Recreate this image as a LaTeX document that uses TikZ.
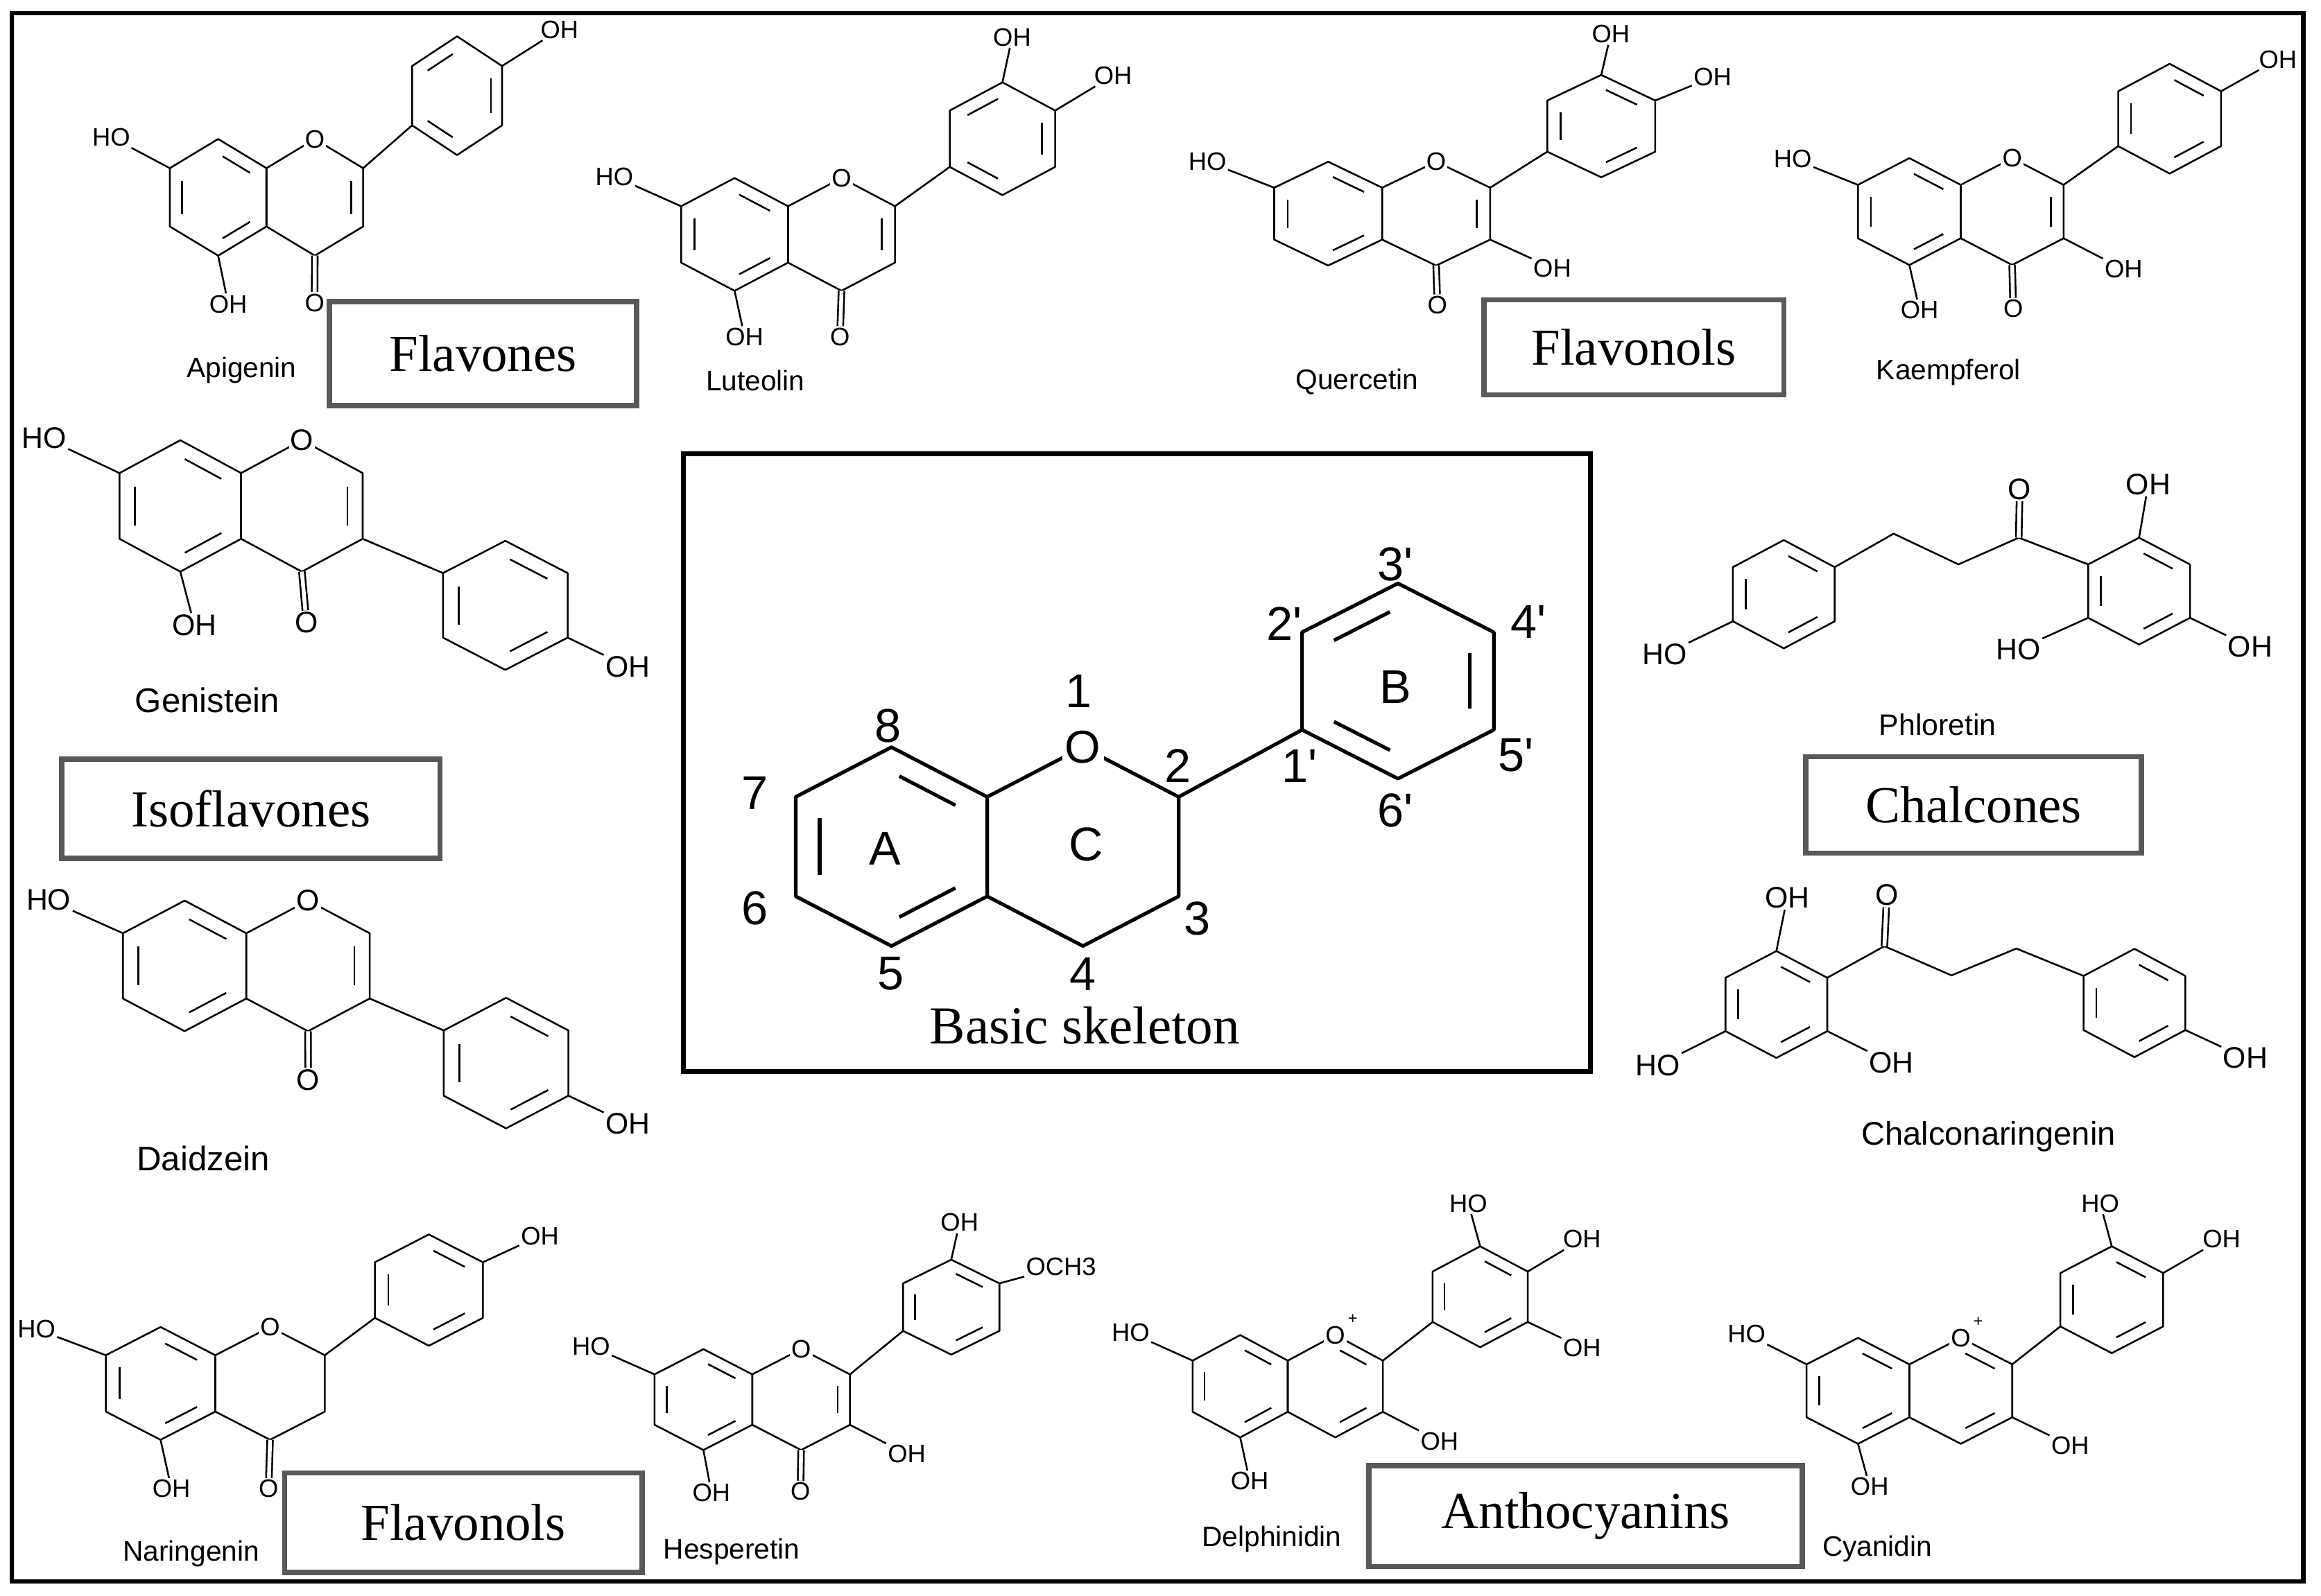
\documentclass[tikz,border=0pt]{standalone}
\usepackage{fontspec}
\setmainfont{Liberation Serif}
\newfontfamily\sansf{Liberation Sans}
\usetikzlibrary{calc}
\newcommand\hexn[5]{\coordinate (#1c) at ({#2},{#3});\foreach \k in {0,...,5}{\coordinate (#1\k) at ({#2+(#4)*cos(90-60*\k)},{#3-(#5)*sin(90-60*\k)});}}
\newcommand\ringd[1]{\draw[bond] (#10)--(#11)--(#12)--(#13)--(#14)--(#15)--cycle;}
\newcommand\dl[2]{\pgfmathtruncatemacro\kk{mod(#2+1,6)}\draw[bond,inr] ($(#1c)!0.75!(#1#2)$) -- ($(#1c)!0.75!(#1\kk)$);}
\newcommand\dls[2]{\foreach \j in {#2}{\dl{#1}{\j}}}
\newcommand\flav[9]{\hexn{#1A}{#2}{#3}{#4}{#5}\hexn{#1C}{#2+1.7320508*#4}{#3}{#4}{#5}\hexn{#1B}{#6}{#7}{#8}{#9}\ringd{#1A}\ringd{#1C}\ringd{#1B}}
\newcommand\sub[4]{\node[lab] (#2) at (#3) {#4};\draw[bond] (#1) -- (#2);}
\newcommand\co[3]{\node[lab] (#2) at (#3) {O};\draw[bond,double,double distance=2.6pt] (#1) -- (#2);}
\newcommand\ringO[2]{\node[lab,fill=white] (#2) at (#1) {O};}
\newcommand\fsz[1]{\sansf\fontsize{#1}{#1}\selectfont}
\begin{document}
\begin{tikzpicture}[x=1pt,y=-1pt,
  bond/.style={line width=1.2pt,line join=round},
  inr/.style={shorten <=3.5pt,shorten >=3.5pt},
  lab/.style={inner sep=1pt,font=\fsz{17}},
  mname/.style={inner sep=0pt,font=\fsz{19}},
  cls/.style={draw=black!65,line width=3.5pt,fill=white,font=\fontsize{35}{35}\selectfont}]
\useasboundingbox (0,0) rectangle (1564,1075.6);
\draw[line width=3pt] (8,9) rectangle (1552,1066);

% Apigenin
\flav{ap}{147}{133}{37.6}{39.3}{308}{64.5}{35}{40}
\draw[bond] (apC1) -- (apB4);
\dls{apA}{0,2,4}\dls{apC}{1}\dls{apB}{1,3,5}
\ringO{apC0}{apO}
\sub{apA5}{apHO}{75,92.4}{HO}\sub{apA3}{apOH5}{153.8,205}{OH}\co{apC3}{apCO}{212,204}\sub{apB1}{apOH4}{377,20}{OH}
\node[mname] (apn) at (162.8,249.5) {Apigenin};
\node[cls,minimum width=207pt,minimum height=70pt] (flavones) at (325.5,238.3) {Flavones};

% Luteolin
\flav{lt}{495}{158}{41.6}{38}{675.5}{93.5}{41}{38}
\draw[bond] (ltC1) -- (ltB4);
\dls{ltA}{0,2,4}\dls{ltC}{1}\dls{ltB}{1,3,5}
\ringO{ltC0}{ltO}
\sub{ltA5}{ltHO}{414,119}{HO}\sub{ltA3}{ltOH5}{501.7,227}{OH}\co{ltC3}{ltCO}{566,227}\sub{ltB0}{ltOH3}{682,25}{OH}\sub{ltB1}{ltOH4}{750,51}{OH}
\node[mname] (ltn) at (509,256.6) {Luteolin};

% Quercetin
\flav{q}{895}{144}{42}{35}{1079}{85}{42}{34.5}
\draw[bond] (qC1) -- (qB4);
\dls{qA}{0,2,4}\dls{qC}{1}\dls{qB}{0,2,4}
\ringO{qC0}{qO}
\sub{qA5}{qHO}{813.6,109}{HO}\co{qC3}{qCO}{968.6,205.6}\sub{qC2}{qOH3}{1046,180.6}{OH}\sub{qB0}{qOH3b}{1085.4,23}{OH}\sub{qB1}{qOH4}{1154,52}{OH}
\node[mname] (qn) at (914.4,257.5) {Quercetin};
\node[cls,minimum width=202pt,minimum height=64pt] (flavonols1) at (1101,234) {Flavonols};

% Kaempferol
\flav{k}{1286.6}{142.6}{40}{36}{1462}{80}{40}{37}
\draw[bond] (kC1) -- (kB4);
\dls{kA}{0,2,4}\dls{kC}{1}\dls{kB}{0,2,4}
\ringO{kC0}{kO}
\sub{kA5}{kHO}{1208,107}{HO}\sub{kA3}{kOH5}{1293.5,209}{OH}\co{kC3}{kCO}{1356.6,208}\sub{kC2}{kOH3}{1431,181.5}{OH}\sub{kB1}{kOH4}{1535,40}{OH}
\node[mname] (kn) at (1313,251) {Kaempferol};

% Isoflavones group
\begin{scope}[lab/.style={inner sep=1pt,font=\fsz{20}},mname/.style={inner sep=0pt,font=\fsz{23}}]
\flav{g}{121.5}{341}{47.3}{44.3}{340.5}{408}{48.5}{43.5}
\draw[bond] (gC2) -- (gB5);
\dls{gA}{0,2,4}\dls{gC}{1}\dls{gB}{0,2,4}
\ringO{gC0}{gO}
\sub{gA5}{gHO}{29.8,295}{HO}\sub{gA3}{gOH5}{131,421.4}{OH}\co{gC3}{gCO}{206.5,419.7}\sub{gB2}{gOH4}{423,449.2}{OH}
\node[mname] (gn) at (139.6,472) {Genistein};

\flav{d}{124.4}{651}{48}{44}{341}{716.5}{48.5}{44}
\draw[bond] (dC2) -- (dB5);
\dls{dA}{0,2,4}\dls{dC}{1}\dls{dB}{0,2,4}
\ringO{dC0}{dO}
\sub{dA5}{dHO}{32.8,606.6}{HO}\co{dC3}{dCO}{207.7,727.9}\sub{dB2}{dOH4}{423,757.4}{OH}
\node[mname] (dn) at (137,781) {Daidzein};

% Phloretin
\hexn{phL}{1202}{400.5}{39.6}{36.5}\hexn{phR}{1441.4}{398.4}{39.6}{36}
\ringd{phL}\ringd{phR}\dls{phL}{0,2,4}\dls{phR}{0,2,4}
\coordinate (ph1) at (1276,359.7);\coordinate (ph2) at (1319.7,380.4);\coordinate (ph3) at (1360.3,362.4);
\draw[bond] (phL1) -- (ph1) -- (ph2) -- (ph3) -- (phR5);
\co{ph3}{phCO}{1361,329.6}
\sub{phL4}{phHO}{1121.6,441}{HO}\sub{phR0}{phOHa}{1447.6,326.3}{OH}\sub{phR4}{phOHb}{1360,437.7}{HO}\sub{phR2}{phOHc}{1516.3,436}{OH}
\node[inner sep=0pt,font=\fsz{20}] (phn) at (1305.7,488.6) {Phloretin};

% Chalconaringenin
\hexn{cnL}{1197}{677}{39.6}{36}\hexn{cnR}{1438.3}{676}{39.6}{36.5}
\ringd{cnL}\ringd{cnR}\dls{cnL}{0,2,4}\dls{cnR}{0,2,4}
\coordinate (cn1) at (1269.8,637.7);\coordinate (cn2) at (1315,657.4);\coordinate (cn3) at (1358.7,639.3);
\draw[bond] (cnL1) -- (cn1) -- (cn2) -- (cn3) -- (cnR5);
\co{cn1}{cnCO}{1271.4,603.3}
\sub{cnL0}{cnOHa}{1204.3,604.9}{OH}\sub{cnL4}{cnHO}{1117,718}{HO}\sub{cnL2}{cnOHb}{1274.5,716.4}{OH}\sub{cnR2}{cnOHc}{1513,713}{OH}
\node[inner sep=0pt,font=\fsz{22}] (cnn) at (1340,766) {Chalconaringenin};
\end{scope}
\node[cls,minimum width=255pt,minimum height=67pt] (isoflavones) at (169.1,545.1) {Isoflavones};
\node[cls,minimum width=226pt,minimum height=65pt] (chalcones) at (1329.9,542.6) {Chalcones};

% Naringenin
\flav{n}{108.2}{932.4}{42.6}{38}{289}{869.5}{42}{37.5}
\draw[bond] (nC1) -- (nB4);
\dls{nA}{0,2,4}\dls{nB}{0,2,4}
\ringO{nC0}{nO}
\sub{nA5}{nHO}{24.6,895.8}{HO}\sub{nA3}{nOH5}{115.5,1003.4}{OH}\co{nC3}{nCO}{181,1003.4}\sub{nB1}{nOH4}{363.8,833}{OH}
\node[mname] (nn) at (128.8,1047.4) {Naringenin};
\node[cls,minimum width=241pt,minimum height=67pt] (flavonols2) at (312.2,1026.3) {Flavonols};

% Hesperetin
\flav{h}{474}{943.3}{38}{34}{641}{881}{37.5}{32}
\draw[bond] (hC1) -- (hB4);
\dls{hA}{0,2,4}\dls{hC}{1}\dls{hB}{0,2,4}
\ringO{hC0}{hO}
\sub{hA5}{hHO}{398.3,907.4}{HO}\sub{hA3}{hOH5}{479.4,1006.1}{OH}\co{hC3}{hCO}{539.4,1005.2}\sub{hC2}{hOH3}{611,980}{OH}\sub{hB0}{hOH3b}{646.6,824}{OH}\sub{hB1}{hOMe}{715,853.6}{OCH3}
\node[mname] (hn) at (493,1045.6) {Hesperetin};

% Delphinidin
\flav{de}{835.7}{934.3}{37}{34.5}{997.4}{874}{37}{34}
\draw[bond] (deC1) -- (deB4);
\dls{deA}{0,2,4}\dls{deC}{0,2}\dls{deB}{0,2,4}
\ringO{deC0}{deO}\node[inner sep=0pt,font=\fsz{11}] (dep) at (911.5,888.9) {+};
\sub{deA5}{deHO}{761.8,898.2}{HO}\sub{deA3}{deOH5}{842.1,998.3}{OH}\sub{deC2}{deOH3}{970,971.4}{OH}\sub{deB0}{deOHa}{989.4,811}{HO}\sub{deB1}{deOHb}{1066,835.2}{OH}\sub{deB2}{deOHc}{1066,908.4}{OH}
\node[mname] (den) at (857,1037.3) {Delphinidin};

% Cyanidin
\flav{cy}{1252}{937.4}{40}{35.7}{1423}{876}{40}{36}
\draw[bond] (cyC1) -- (cyB4);
\dls{cyA}{0,2,4}\dls{cyC}{0,2}\dls{cyB}{0,2,4}
\ringO{cyC0}{cyO}\node[inner sep=0pt,font=\fsz{11}] (cyp) at (1333,890.8) {+};
\sub{cyA5}{cyHO}{1176.9,899.1}{HO}\sub{cyA3}{cyOH5}{1259.9,1002}{OH}\sub{cyC2}{cyOH3}{1395,974.2}{OH}\sub{cyB0}{cyOHa}{1415.2,811}{HO}\sub{cyB1}{cyOHb}{1497,835.2}{OH}
\node[mname] (cyn) at (1265,1043.7) {Cyanidin};
\node[cls,minimum width=292pt,minimum height=68pt] (antho) at (1068.5,1021.9) {Anthocyanins};

% Basic skeleton
\draw[line width=3pt] (460.6,305.9) rectangle (1071.8,722.1);
\begin{scope}[bond/.style={line width=2.4pt,line join=round},inr/.style={shorten <=6pt,shorten >=6pt},lab/.style={inner sep=2pt,font=\fsz{31}}]
\flav{s}{600.7}{570.6}{74.5}{67}{942}{459}{74.6}{65.8}
\draw[bond] (sC1) -- (sB4);
\dls{sA}{0,2,4}\dls{sB}{1,3,5}
\ringO{sC0}{sO}
\foreach \t/\x/\y [count=\i] in {1/726.8/466,8/598.3/489,7/508.6/534.7,6/508.6/612,5/600.4/656.3,4/729.7/656.3,3/806.9/619.1,2/793.5/516.1,1'/875.7/516.1,6'/940.4/546.2,5'/1021.7/509,4'/1030/418.9,3'/940.4/380.2,2'/865.3/420.3,B/940.4/463.2,A/596.2/571.9,C/731.8/569}
  \node[inner sep=0pt,font=\fsz{32}] (num\i) at (\x,\y) {\t};
\node[inner sep=0pt,font=\fontsize{36}{36}\selectfont] (basic) at (731,691) {Basic skeleton};
\end{scope}
\end{tikzpicture}
\end{document}
